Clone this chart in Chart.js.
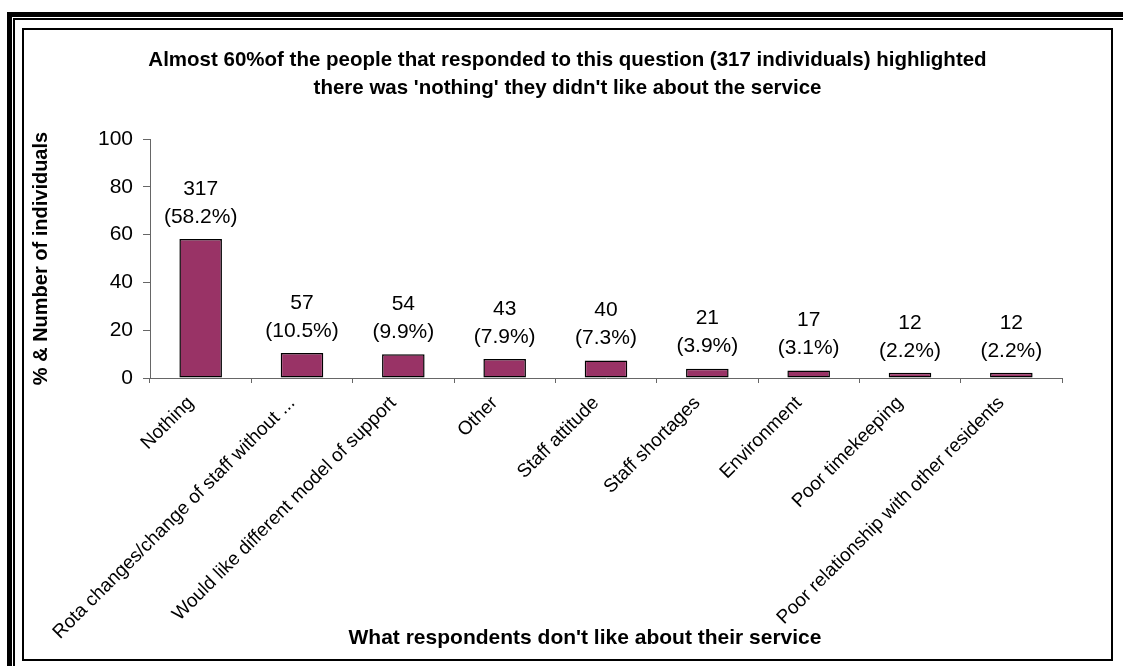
<!DOCTYPE html>
<html>
<head>
<meta charset="utf-8">
<script src="https://cdn.jsdelivr.net/npm/chart.js@4/dist/chart.umd.min.js"></script>
<style>
  html, body { margin: 0; padding: 0; background: #fff; }
  body { width: 1123px; height: 666px; position: relative; overflow: hidden; font-family: Arial, "Liberation Sans", sans-serif; }
  .line { position: absolute; background: #000; }
  #frame { position: absolute; left: 22px; top: 28px; width: 1087px; height: 629px; border: 2px solid #000; }
  #frame canvas { position: absolute; left: 0; top: 0; }
</style>
</head>
<body>
<!-- page border: thick + thin rules on top and left -->
<div class="line" style="left:7px; top:12px; right:0; height:5px"></div>
<div class="line" style="left:13px; top:18px; right:0; height:2px"></div>
<div class="line" style="left:7px; top:12px; bottom:0; width:5px"></div>
<div class="line" style="left:13px; top:18px; bottom:0; width:2px"></div>

<div id="frame"><canvas id="myChart" width="1087" height="629"></canvas></div>

<script>
const categories = [
  "Nothing",
  "Rota changes/change of staff without ...",
  "Would like different model of support",
  "Other",
  "Staff attitude",
  "Staff shortages",
  "Environment",
  "Poor timekeeping",
  "Poor relationship with other residents",
];
const percentages = [58.2, 10.5, 9.9, 7.9, 7.3, 3.9, 3.1, 2.2, 2.2];
const counts = [317, 57, 54, 43, 40, 21, 17, 12, 12];
const yTicks = [0, 20, 40, 60, 80, 100];
const xTitle = "What respondents don't like about their service";

const FONT = "Arial, 'Liberation Sans', sans-serif";

// writes "count" and "(pct%)" above each bar
const barLabels = {
  id: "barLabels",
  afterDatasetsDraw(chart) {
    const ctx = chart.ctx;
    const meta = chart.getDatasetMeta(0);
    ctx.save();
    ctx.fillStyle = "#000";
    ctx.font = "21px " + FONT;
    ctx.textAlign = "center";
    ctx.textBaseline = "middle";
    meta.data.forEach((bar, i) => {
      ctx.fillText(String(counts[i]), bar.x, bar.y - 50);
      ctx.fillText("(" + percentages[i].toFixed(1) + "%)", bar.x, bar.y - 22);
    });
    ctx.restore();
  },
};

// category axis caption, sitting a little left of the plot centre
const xCaption = {
  id: "xCaption",
  afterDraw(chart) {
    const ctx = chart.ctx;
    const x = chart.scales.x;
    ctx.save();
    ctx.fillStyle = "#000";
    ctx.font = "bold 21px " + FONT;
    ctx.textAlign = "center";
    ctx.textBaseline = "middle";
    ctx.fillText(xTitle, (x.left + x.right) / 2 - 21, x.bottom - 15);
    ctx.restore();
  },
};

const ctx = document.querySelector("#myChart").getContext("2d");

const myChart = new Chart(ctx, {
  type: "bar",
  data: {
    labels: categories,
    datasets: [
      {
        data: percentages,
        backgroundColor: "#993366",
        borderColor: "#000",
        borderWidth: 1.5,
        borderSkipped: false,
        categoryPercentage: 1,
        barPercentage: 0.42,
      },
    ],
  },
  options: {
    responsive: false,
    animation: false,
    layout: { padding: { left: 0, right: 0, top: 0, bottom: 6 } },
    plugins: {
      legend: { display: false },
      tooltip: { enabled: false },
      title: {
        display: true,
        text: [
          "Almost 60%of the people that responded to this question (317 individuals) highlighted",
          "there was 'nothing' they didn't like about the service",
        ],
        color: "#000",
        font: { family: FONT, size: 20.5, weight: "bold", lineHeight: 1.366 },
        padding: { top: 16, bottom: 37 },
      },
    },
    scales: {
      x: {
        grid: { drawOnChartArea: false, tickLength: 5, color: "#666" },
        border: { color: "#666", width: 1 },
        ticks: {
          color: "#000",
          font: { family: FONT, size: 19 },
          maxRotation: 45,
          minRotation: 45,
          padding: 9,
          labelOffset: -10,
          autoSkip: false,
        },
        afterFit(scale) {
          scale.height = 629 - 6 - 348;
        },
      },
      y: {
        min: 0,
        max: 100,
        afterBuildTicks(scale) {
          scale.ticks = yTicks.map((v) => ({ value: v }));
        },
        grid: { drawOnChartArea: false, tickLength: 7, color: "#666" },
        border: { color: "#666", width: 1 },
        ticks: {
          color: "#000",
          font: { family: FONT, size: 21 },
          padding: 10,
        },
        title: {
          display: true,
          text: "% & Number of individuals",
          color: "#000",
          font: { family: FONT, size: 20, weight: "bold" },
          padding: { top: 5, bottom: 0 },
        },
        afterFit(scale) {
          scale.width = 126;
        },
      },
      // empty right-hand axis that keeps a blank margin beside the plot
      spacer: {
        position: "right",
        display: true,
        grid: { display: false },
        border: { display: false },
        ticks: { display: false },
        afterFit(scale) {
          scale.width = 49;
        },
      },
    },
  },
  plugins: [barLabels, xCaption],
});
</script>
</body>
</html>
